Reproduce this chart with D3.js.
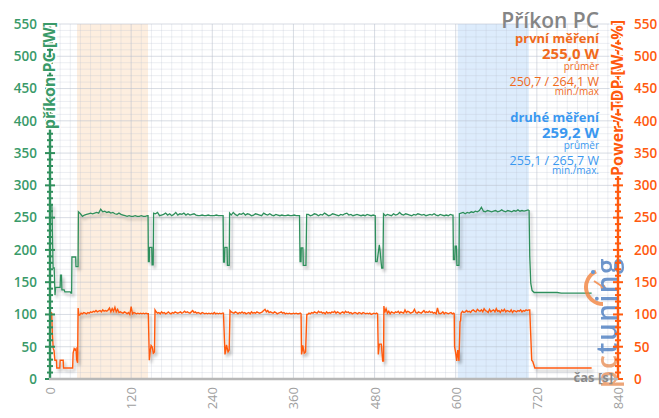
<!DOCTYPE html>
<html><head><meta charset="utf-8">
<script src="https://cdn.jsdelivr.net/npm/d3@7"></script>
<style>body{margin:0;background:#fff} svg{display:block;font-family:"Open Sans",sans-serif}</style>
</head><body><svg id="c" width="659" height="418"></svg>
<script>
// ---------------- DATA ----------------
const timeTicks = [0,120,240,360,480,600,720,840];
const powerTicks = [0,50,100,150,200,250,300,350,400,450,500,550];
const highlightRanges = [[40,145],[603,708]];

const chartTitle = "Příkon PC";
const leftAxisTitle = "příkon PC [W]";
const rightAxisTitle = "Power / TDP [W / %]";
const timeAxisTitle = "čas [s]";
const legendFirst = ["první měření","255,0 W","průměr","250,7 / 264,1 W","min./max"];
const legendSecond = ["druhé měření","259,2 W","průměr","255,1 / 265,7 W","min./max."];

// green series: příkon PC [W]   (pairs [time s, W])
const greenStart = [[0,270],[2.8,270],[4.6,172],[6.2,172],[7.4,130],[8.4,142],[15,142],[15.5,161],[17,161],[17.6,138],[21,138],[22,135],[30,135],[31,133],[32,133],[32.4,189],[38,189],[38.4,174],[41.5,174],[42,259]];
const greenSteadyA = {from:45, step:3, values:[256,252,254,255,256,257,256,257,258,257,263,259,260,258,259,257,258,256,255,257,255,254,253,252,253,252,252,253,252,252,253,252,252,253]};
const greenDip1 = [[145,253],[145.5,182],[146.8,182],[147.2,204],[150.5,204],[151,177],[152.6,177],[153.2,257]];
const greenSteadyB = {from:156, step:3, values:[256,258,253,254,255,257,254,256,253,255,258,254,256,255,257,254,256,254,255,256,254,253,253,254,253,253,254,253,253,253,254,253,253,253]};
const greenDip2 = [[256,253],[256.6,181],[258,181],[258.6,204],[261.8,204],[262.4,176],[265,176],[265.6,257]];
const greenSteadyC = {from:268, step:3, values:[254,258,255,253,256,255,257,254,256,255,253,254,256,255,254,253,257,255,254,256,254,253,255,254,253,254,253,253,254,253,253,254,253,253]};
const greenDip3 = [[369,253],[369.8,182],[371.2,182],[371.6,203],[374,203],[374.6,176],[378.5,176],[379.6,255]];
const greenSteadyD = {from:382, step:3, values:[255,253,254,256,255,253,255,254,257,255,253,254,256,255,254,253,255,254,256,257,254,255,253,254,255,254,253,254,253,255,254,253,254]};
const greenDip4 = [[481,253],[481.6,182],[483.8,182],[487,208],[488,200],[490.5,172],[492.4,172],[493.2,256]];
const greenSteadyE = {from:496, step:3, values:[253,255,254,253,256,254,255,258,255,254,256,255,254,253,255,254,256,255,254,255,253,254,255,254,256,254,253,255,254,253,254,253,255,254]};
const greenDip5 = [[596,254],[596.6,185],[598.5,185],[599.2,206],[601,206],[601.8,176],[604.8,176],[605.4,256]];
const greenSteadyF = {from:608, step:3, values:[257,258,256,258,257,259,258,260,259,261,266,260,259,261,260,259,260,261,259,260,262,260,259,261,260,259,261,260,262,260,261,260,261,262]};
const greenEnd = [[708.5,261],[709.5,190],[711,148],[713,137],[716,134],[750,134],[756,133],[801,133]];

// orange series: Power / TDP [W / %]
const orangeStart = [[0,104],[2.5,102],[3.5,70],[4.8,47],[6,44],[7.2,29],[9.6,29],[10,17],[14.5,17],[15,29],[19.5,29],[20,17],[33.5,17],[34.2,40],[35.8,47],[37.2,45],[38.6,47],[39.4,30],[40.8,25],[41.6,110],[42.5,99]];
const orangeSteadyA = {from:44, step:2, values:[99,102,101,103,102,101,103,102,104,103,105,104,106,104,105,106,104,107,105,106,105,107,110,104,109,105,111,104,108,103,104,103,102,104,103,101,103,100,112,101,103,102,101,102,101,102,101,102,101,102,101]};
const orangeDip1 = [[145.4,101],[146.9,29],[148.5,45],[149.5,52],[151,50],[152.8,40],[154.5,42],[155.3,107]];
const orangeSteadyB = {from:157, step:2, values:[104,102,103,101,104,102,103,101,102,104,102,101,103,102,104,103,102,103,104,102,103,105,103,104,103,102,104,106,103,104,102,103,102,101,103,102,101,102,101,102,101,102,101,103,101,102,101,102,101,102]};
const orangeDip2 = [[256.5,102],[258.8,38],[260,45],[261,53],[263.3,42],[265,45],[266.2,106]];
const orangeSteadyC = {from:268, step:2, values:[104,103,102,104,103,101,103,102,104,102,103,101,102,103,101,104,102,103,102,104,103,102,103,104,106,108,104,106,103,104,103,102,104,103,101,102,103,104,102,103,101,102,101,102,101,101,102,101,102,101,101,102]};
const orangeDip3 = [[371.3,101],[372,38],[373,44],[373.8,52],[376,40],[378,42],[379.8,100]];
const orangeSteadyD = {from:381, step:2, values:[100,102,101,103,102,104,103,102,105,103,104,102,103,101,104,102,103,102,104,103,105,102,104,103,101,103,104,102,105,103,104,102,103,101,102,103,102,101,103,102,101,103,102,101,102,101,102,100,101,102,101,102]};
const orangeDip4 = [[484.5,101],[485.5,38],[487,54],[490,54],[492,28],[493.3,28],[493.8,113],[495,103]];
const orangeSteadyE = {from:497, step:2, values:[109,102,105,101,104,103,102,104,103,105,102,104,103,102,107,103,105,104,102,103,104,108,103,102,104,103,102,104,106,103,104,103,105,103,104,102,103,101,110,102,101,102,104,101,103,102,101,102,103,101,102]};
const orangeDip5 = [[597.8,101],[598.3,50],[600,40],[601.5,28],[603,45],[604.8,28],[606.4,89],[607.2,90],[608,102]];
const orangeSteadyF = {from:610, step:2, values:[105,103,104,106,104,105,103,106,107,105,104,108,106,105,107,104,109,106,105,103,108,104,106,107,104,109,105,106,103,107,105,108,104,106,105,104,107,103,106,105,104,106,105,107,104,106,105,107,106,107]};
const orangeEnd = [[709.5,107],[712.4,29],[714,27],[717,17],[801,17]];

// ---------------- BUILD ----------------
const seg = s => s.values.map((v,i)=>[s.from+i*s.step, v]);
const greenSeries = [].concat(greenStart, seg(greenSteadyA), greenDip1, seg(greenSteadyB), greenDip2, seg(greenSteadyC), greenDip3, seg(greenSteadyD), greenDip4, seg(greenSteadyE), greenDip5, seg(greenSteadyF), greenEnd);
const orangeSeries = [].concat(orangeStart, seg(orangeSteadyA), orangeDip1, seg(orangeSteadyB), orangeDip2, seg(orangeSteadyC), orangeDip3, seg(orangeSteadyD), orangeDip4, seg(orangeSteadyE), orangeDip5, seg(orangeSteadyF), orangeEnd);

const GREEN = "#2f8f5c", GREEN_T = "#3a9a69", ORANGE = "#ff5a0e", ORANGE_T = "#f06a1c", BLUE_T = "#3a98f0", GRAY_T = "#8a8a8a";

const svg = d3.select("#c");
const x = d3.scaleLinear().domain([0,840]).range([50,618]);
const y = d3.scaleLinear().domain([0,550]).range([379,24]);

const defs = svg.append("defs");
const f = defs.append("filter").attr("id","sh").attr("x","-5%").attr("y","-5%").attr("width","110%").attr("height","120%");
f.append("feDropShadow").attr("dx",2).attr("dy",3).attr("stdDeviation",1.8).attr("flood-color","#000").attr("flood-opacity",0.28);

// bands
const bandColors = ["#fdeedf","#ddecfc"];
svg.selectAll("rect.band").data(highlightRanges).join("rect").attr("class","band")
  .attr("x",d=>x(d[0])).attr("width",d=>x(d[1])-x(d[0]))
  .attr("y",y(550)).attr("height",y(0)-y(550)).attr("fill",(d,i)=>bandColors[i]);

// grid
const grid = svg.append("g");
grid.selectAll("line.hm").data(d3.range(0,551,10).filter(v=>v%50)).join("line")
  .attr("x1",x(0)).attr("x2",x(840)).attr("y1",d=>y(d)).attr("y2",d=>y(d))
  .attr("stroke","#bcc3cf").attr("stroke-opacity",0.28).attr("stroke-width",1);
grid.selectAll("line.vm").data(d3.range(0,841,15).filter(v=>v%120)).join("line")
  .attr("y1",y(0)).attr("y2",y(550)).attr("x1",d=>x(d)).attr("x2",d=>x(d))
  .attr("stroke","#bcc3cf").attr("stroke-opacity",0.28).attr("stroke-width",1);
grid.selectAll("line.hM").data(powerTicks).join("line")
  .attr("x1",x(0)).attr("x2",x(840)).attr("y1",d=>y(d)).attr("y2",d=>y(d))
  .attr("stroke","#b8bfcc").attr("stroke-opacity",0.55).attr("stroke-width",1);
grid.selectAll("line.vM").data(timeTicks).join("line")
  .attr("y1",y(0)).attr("y2",y(550)).attr("x1",d=>x(d)).attr("x2",d=>x(d))
  .attr("stroke","#b8bfcc").attr("stroke-opacity",0.55).attr("stroke-width",1);

// lines
const line = d3.line().x(d=>x(d[0])).y(d=>y(d[1]));
svg.append("path").datum(greenSeries).attr("d",line).attr("fill","none").attr("stroke",GREEN).attr("stroke-width",1.3).attr("filter","url(#sh)");
svg.append("path").datum(orangeSeries).attr("d",line).attr("fill","none").attr("stroke",ORANGE).attr("stroke-width",1.4).attr("filter","url(#sh)");

// watermark
const wm = svg.append("g").attr("opacity",0.8);
const cx = 603, cy = 287;
wm.append("path").attr("transform",`translate(${cx},${cy})`)
  .attr("d", d3.arc()({innerRadius:15,outerRadius:19,startAngle:-Math.PI,endAngle:-0.42}))
  .attr("fill","#f3843f");
wm.append("line").attr("x1",cx).attr("y1",cy).attr("x2",cx-9).attr("y2",cy-6).attr("stroke","#f3843f").attr("stroke-width",2);
wm.append("circle").attr("cx",cx).attr("cy",cy).attr("r",2.5).attr("fill","#f3843f");
wm.append("circle").attr("cx",cx-10).attr("cy",cy-15).attr("r",2).attr("fill","#3a7fd0");
const wt = wm.append("text").attr("transform","translate(617,388) rotate(-90)")
  .attr("font-size",28).attr("font-weight",600).attr("letter-spacing",1.5);
wt.append("tspan").text("pc").attr("fill","#e9915a");
wt.append("tspan").text("tuning").attr("fill","#4a7cc0");

// left axis
const la = svg.append("g").attr("transform","translate(50,0)")
  .call(d3.axisLeft(y).tickValues(powerTicks).tickSize(0).tickPadding(13).tickFormat(d3.format("d")));
la.select(".domain").remove();
la.selectAll("text").attr("fill",GREEN_T).attr("font-size",13.5).attr("font-weight",600).attr("font-family","Open Sans");
svg.append("line").attr("x1",50).attr("x2",50).attr("y1",y(550)).attr("y2",y(0)+1).attr("stroke",GREEN).attr("stroke-width",2.4);
svg.append("g").selectAll("line").data(d3.range(0,551,10)).join("line")
  .attr("x1",d=>d%50?47:45).attr("x2",d=>d%50?53:55).attr("y1",d=>y(d)).attr("y2",d=>y(d))
  .attr("stroke",GREEN).attr("stroke-width",2);

// right axis
const ra = svg.append("g").attr("transform","translate(618,0)")
  .call(d3.axisRight(y).tickValues(powerTicks).tickSize(0).tickPadding(16).tickFormat(d3.format("d")));
ra.select(".domain").remove();
ra.selectAll("text").attr("fill",ORANGE).attr("font-size",13.5).attr("font-weight",600).attr("font-family","Open Sans");
svg.append("line").attr("x1",618).attr("x2",618).attr("y1",y(550)).attr("y2",y(0)+1).attr("stroke",ORANGE).attr("stroke-width",2.4);
svg.append("g").selectAll("line").data(d3.range(0,551,10)).join("line")
  .attr("x1",d=>d%50?615:613).attr("x2",d=>d%50?621:623).attr("y1",d=>y(d)).attr("y2",d=>y(d))
  .attr("stroke",ORANGE).attr("stroke-width",2);

// bottom axis
const ba = svg.append("g").attr("transform",`translate(0,${y(0)})`)
  .call(d3.axisBottom(x).tickValues(timeTicks).tickSize(0));
ba.select(".domain").remove();
ba.selectAll("text").attr("transform","rotate(-90)").attr("text-anchor","end")
  .attr("x",-8).attr("y",0).attr("dy","0.35em")
  .attr("fill","#a0a0a0").attr("font-size",13).attr("font-family","Open Sans");
svg.append("line").attr("x1",x(0)-1).attr("x2",x(840)).attr("y1",y(0)).attr("y2",y(0)).attr("stroke","#b8b8b8").attr("stroke-width",2.4);

// axis titles (white halo so axis shows only between words)
svg.append("text").attr("transform","translate(55,22) rotate(-90)").attr("text-anchor","end")
  .attr("font-size",16).attr("font-weight",700).attr("fill",GREEN_T)
  .attr("stroke","#fff").attr("stroke-width",3).attr("paint-order","stroke").attr("stroke-linejoin","round")
  .text(leftAxisTitle);
svg.append("text").attr("transform","translate(623,20) rotate(-90)").attr("text-anchor","end")
  .attr("font-size",16).attr("font-weight",700).attr("fill",ORANGE)
  .attr("stroke","#fff").attr("stroke-width",3).attr("paint-order","stroke").attr("stroke-linejoin","round")
  .text(rightAxisTitle);
svg.append("text").attr("x",613).attr("y",382).attr("text-anchor","end")
  .attr("font-size",13).attr("font-weight",700).attr("fill",GRAY_T).text(timeAxisTitle);

// title & legend
svg.append("text").attr("x",599).attr("y",28).attr("text-anchor","end")
  .attr("font-size",21).attr("font-weight",600).attr("fill","#858585").text(chartTitle);
const legStyle = [
  {dy:0,  size:13, weight:700},
  {dy:16, size:15, weight:700},
  {dy:27, size:10, weight:400},
  {dy:43, size:12.5, weight:400},
  {dy:52, size:10, weight:400}
];
function legend(lines, top, color){
  lines.forEach((t,i)=>{
    svg.append("text").attr("x",599).attr("y",top+legStyle[i].dy).attr("text-anchor","end")
      .attr("font-size",legStyle[i].size).attr("font-weight",legStyle[i].weight).attr("fill",color).text(t);
  });
}
legend(legendFirst, 43, ORANGE_T);
legend(legendSecond, 122, BLUE_T);
</script></body></html>
